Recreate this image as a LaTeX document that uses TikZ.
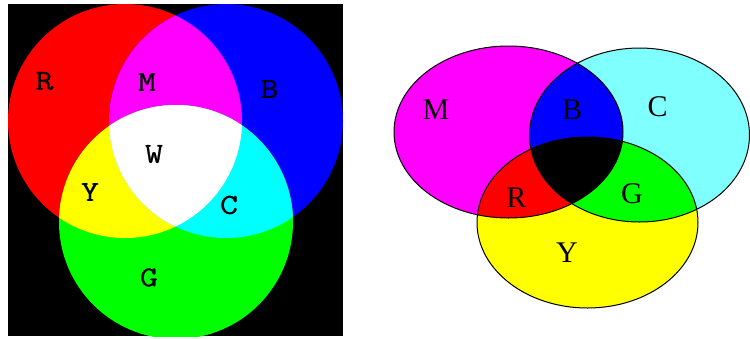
\documentclass[tikz,border=0pt]{standalone}
\usepackage{fontspec}
\newfontfamily\labserif{Liberation Serif}
\newfontfamily\labmono[FakeStretch=1.2,FakeBold=0.8]{Latin Modern Mono}
\definecolor{pureR}{RGB}{255,0,0}
\definecolor{pureG}{RGB}{0,255,0}
\definecolor{pureB}{RGB}{0,0,255}
\definecolor{pureM}{RGB}{255,0,255}
\definecolor{pureY}{RGB}{255,255,0}
\definecolor{pureC}{RGB}{0,255,255}
\definecolor{lightC}{RGB}{128,255,255}
\begin{document}
\begin{tikzpicture}[x=1pt,y=-1pt,
  lefttext/.style={inner sep=0pt, font=\labmono\fontsize{29}{29}\selectfont},
  righttext/.style={inner sep=0pt, font=\labserif\fontsize{30}{30}\selectfont}]
\useasboundingbox (0,0) rectangle (750,338);
\def\Rc{(125,121) circle[radius=117pt]}
\def\Bc{(226,121) circle[radius=117pt]}
\def\Gc{(176,222) circle[radius=117pt]}
\def\Me{(508.5,132) ellipse[x radius=114.5pt, y radius=86pt]}
\def\Ce{(639.5,135) ellipse[x radius=110pt, y radius=87pt]}
\def\Ye{(587.5,222.5) ellipse[x radius=110.5pt, y radius=85.5pt]}
% left: additive
\fill[black] (8,4) rectangle (343,336);
\begin{scope}
  \clip (8,4) rectangle (343,336);
  \fill[pureR] \Rc;
  \fill[pureB] \Bc;
  \fill[pureG] \Gc;
  \begin{scope}\clip \Rc; \fill[pureM] \Bc; \fill[pureY] \Gc; \end{scope}
  \begin{scope}\clip \Bc; \fill[pureC] \Gc; \end{scope}
  \begin{scope}\clip \Rc; \clip \Bc; \fill[white] \Gc; \end{scope}
\end{scope}
\node[lefttext] (lR) at (44.5,81) {R};
\node[lefttext] (lM) at (147,82) {M};
\node[lefttext] (lB) at (269.5,89) {B};
\node[lefttext] (lW) at (154,154) {W};
\node[lefttext] (lY) at (90,192) {Y};
\node[lefttext] (lC) at (229,205) {C};
\node[lefttext] (lG) at (149,277.5) {G};
% right: subtractive
\fill[pureM] \Me;
\fill[lightC] \Ce;
\fill[pureY] \Ye;
\begin{scope}\clip \Me; \fill[pureB] \Ce; \fill[pureR] \Ye; \end{scope}
\begin{scope}\clip \Ce; \fill[pureG] \Ye; \end{scope}
\begin{scope}\clip \Me; \clip \Ce; \fill[black] \Ye; \end{scope}
\draw[line width=1pt] \Me;
\draw[line width=1pt] \Ce;
\draw[line width=1pt] \Ye;
\node[righttext] (rM) at (436,110) {M};
\node[righttext] (rB) at (572,110) {B};
\node[righttext] (rC) at (657.5,107) {C};
\node[righttext] (rR) at (516.5,197.5) {R};
\node[righttext] (rG) at (632,194) {G};
\node[righttext] (rY) at (567,253) {Y};
\end{tikzpicture}
\end{document}
